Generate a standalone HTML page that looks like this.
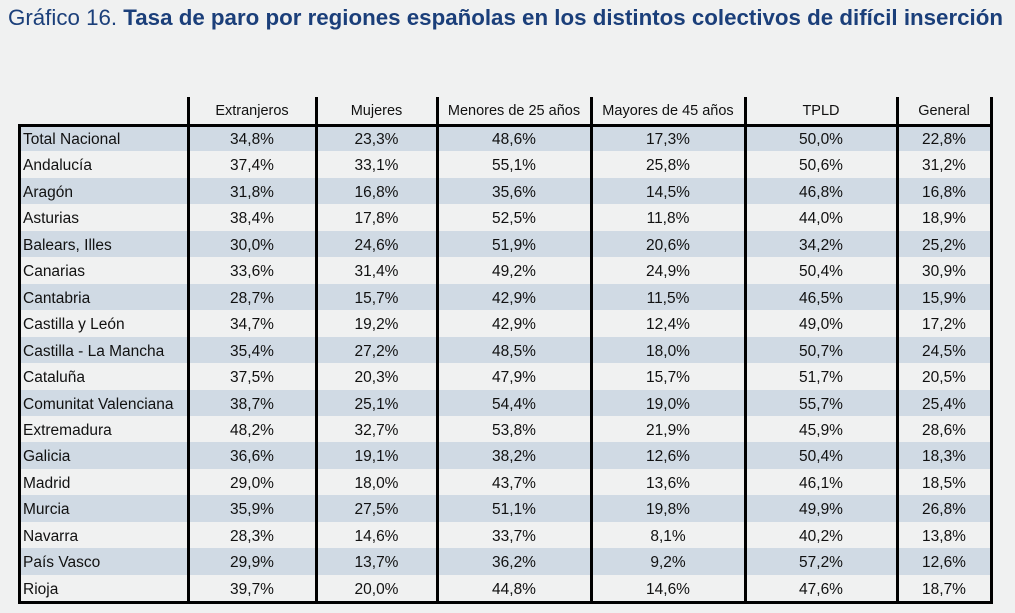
<!DOCTYPE html>
<html><head><meta charset="utf-8">
<style>
body{margin:0;width:1015px;height:613px;background:#f0f1f1;overflow:hidden;font-family:"Liberation Sans",sans-serif;position:relative}
#title{position:absolute;left:8px;top:5px;font-size:22px;color:#1b3f7a;white-space:nowrap;transform-origin:0 0}
#title b{font-weight:bold}
.c{position:absolute;font-size:15.5px;color:#111;line-height:26px;white-space:nowrap}
.stripe{position:absolute;background:#d0dae4}
.ln{position:absolute;background:#000}
</style></head><body>
<div id="title">Gráfico 16. <b>Tasa de paro por regiones españolas en los distintos colectivos de difícil inserción</b></div>
<div id="tbl"></div>
<script>
const columns=["Extranjeros","Mujeres","Menores de 25 años","Mayores de 45 años","TPLD","General"];
const regions=["Total Nacional","Andalucía","Aragón","Asturias","Balears, Illes","Canarias","Cantabria","Castilla y León","Castilla - La Mancha","Cataluña","Comunitat Valenciana","Extremadura","Galicia","Madrid","Murcia","Navarra","País Vasco","Rioja"];
const extranjeros=[34.8,37.4,31.8,38.4,30.0,33.6,28.7,34.7,35.4,37.5,38.7,48.2,36.6,29.0,35.9,28.3,29.9,39.7];
const mujeres=[23.3,33.1,16.8,17.8,24.6,31.4,15.7,19.2,27.2,20.3,25.1,32.7,19.1,18.0,27.5,14.6,13.7,20.0];
const menores25=[48.6,55.1,35.6,52.5,51.9,49.2,42.9,42.9,48.5,47.9,54.4,53.8,38.2,43.7,51.1,33.7,36.2,44.8];
const mayores45=[17.3,25.8,14.5,11.8,20.6,24.9,11.5,12.4,18.0,15.7,19.0,21.9,12.6,13.6,19.8,8.1,9.2,14.6];
const tpld=[50.0,50.6,46.8,44.0,34.2,50.4,46.5,49.0,50.7,51.7,55.7,45.9,50.4,46.1,49.9,40.2,57.2,47.6];
const general=[22.8,31.2,16.8,18.9,25.2,30.9,15.9,17.2,24.5,20.5,25.4,28.6,18.3,18.5,26.8,13.8,12.6,18.7];
const series=[extranjeros,mujeres,menores25,mayores45,tpld,general];

const tbl=document.getElementById('tbl');
const colX=[19,188,316,437,591,745,897,991];
const top0=97, hdrBot=125, rowH=26.45;
const bottom=hdrBot+rowH*regions.length;
function rowY(i){return hdrBot+i*rowH;}
function add(cls,style,text){const d=document.createElement('div');d.className=cls;Object.assign(d.style,style);if(text!==undefined)d.textContent=text;tbl.appendChild(d);return d;}
regions.forEach((r,i)=>{
  if(i%2===0){
    const s=add('stripe',{left:colX[0]+'px',top:rowY(i)+'px',width:(colX[7]-colX[0])+'px',height:rowH+'px'});
    
    
  }
  const l=add('c',{left:(colX[0]+4)+'px',top:(rowY(i)+2)+'px'},r);
  
  
  series.forEach((vals,j)=>{
    const v=add('c',{left:colX[j+1]+'px',width:(colX[j+2]-colX[j+1])+'px',textAlign:'center',top:(rowY(i)+2)+'px'},vals[i].toFixed(1).replace('.',',')+'%');
    
    
  });
});
columns.forEach((c,j)=>{
  const h=add('c',{left:colX[j+1]+'px',width:(colX[j+2]-colX[j+1])+'px',textAlign:'center',top:(top0+1)+'px',fontSize:'14.5px'},c);
  
  
});
for(let k=1;k<colX.length;k++){
  const v=add('ln',{left:(colX[k]-1)+'px',top:top0+'px',width:'3px',height:(bottom-top0+2)+'px'});
  
  
}
const v0=add('ln',{left:(colX[0]-1)+'px',top:(hdrBot-1)+'px',width:'3px',height:(bottom-hdrBot+3)+'px'});


const hl=add('ln',{left:(colX[0]-1)+'px',top:(hdrBot-1)+'px',width:(colX[7]-colX[0]+3)+'px',height:'3px'});


const bl=add('ln',{left:(colX[0]-1)+'px',top:bottom+'px',width:(colX[7]-colX[0]+3)+'px',height:'3px'});


const t=document.getElementById('title');
const w=t.getBoundingClientRect().width;
t.style.transform='scaleX('+(995/w)+')';
</script>
</body></html>
